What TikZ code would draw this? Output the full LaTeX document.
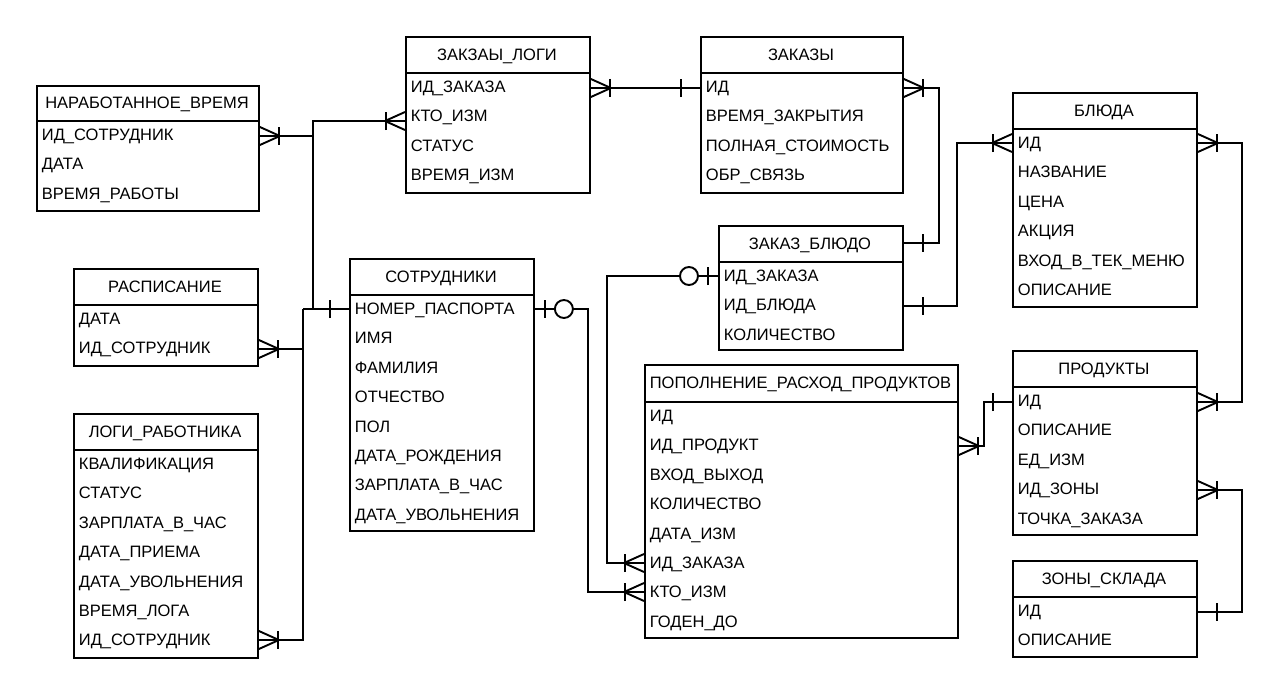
\documentclass[tikz,border=0pt]{standalone}
\usepackage{fontspec}
\setmainfont{Liberation Sans}
\begin{document}
\begin{tikzpicture}[x=1pt,y=-1pt,line width=1.9pt,
  tbl/.style={draw,fill=white,inner sep=0pt},
  ttl/.style={font=\fontsize{16.5}{18}\selectfont,inner sep=0pt,text height=11.8pt,text depth=0pt},
  fld/.style={font=\fontsize{16.5}{18}\selectfont,inner sep=0pt,anchor=west,text height=11.8pt,text depth=0pt},
  link/.style={draw,line width=1.9pt},
  crowmany/.pic={\draw (0,-9) -- (20,0) -- (0,9); \draw (19,-9) -- (19,9);},
  onebar/.pic={\draw (19,-9) -- (19,9);},
  zeroone/.pic={\draw (10,-9) -- (10,9); \draw[fill=white] (29,0) circle[radius=9pt];}
]
\useasboundingbox[fill=white] (0,0) rectangle (1280,693);

% table: name, left, top, right, header bottom, bottom, title, fields
\newcommand\ertable[8]{%
  \node[tbl,anchor=north west,minimum width={(#4-#2)*1pt},minimum height={(#6-#3)*1pt}] (#1) at (#2,#3) {};
  \draw (#1.west |- 0,#5) -- (#1.east |- 0,#5);
  \node[ttl] (#1-t) at ({(#2+#4)/2},{(#3+#5)/2}) {#7};
  \foreach \fldtext [count=\fldi] in {#8}{
    \node[fld] (#1-\fldi) at ({#2+5},{#5+13.5+29.4*(\fldi-1)}) {\fldtext};
  }%
}

\ertable{NV}{36}{85}{258}{121}{210}{НАРАБОТАННОЕ\_ВРЕМЯ}{ИД\_СОТРУДНИК,ДАТА,ВРЕМЯ\_РАБОТЫ}
\ertable{ZL}{405}{36}{589}{73}{192}{ЗАКЗАЫ\_ЛОГИ}{ИД\_ЗАКАЗА,КТО\_ИЗМ,СТАТУС,ВРЕМЯ\_ИЗМ}
\ertable{Z}{700}{36}{902}{73}{192}{ЗАКАЗЫ}{ИД,ВРЕМЯ\_ЗАКРЫТИЯ,ПОЛНАЯ\_СТОИМОСТЬ,ОБР\_СВЯЗЬ}
\ertable{B}{1012}{92}{1196}{129}{306}{БЛЮДА}{ИД,НАЗВАНИЕ,ЦЕНА,АКЦИЯ,ВХОД\_В\_ТЕК\_МЕНЮ,ОПИСАНИЕ}
\ertable{ZB}{718}{225}{902}{262}{349}{ЗАКАЗ\_БЛЮДО}{ИД\_ЗАКАЗА,ИД\_БЛЮДА,КОЛИЧЕСТВО}
\ertable{S}{349}{258}{533}{295}{530}{СОТРУДНИКИ}{НОМЕР\_ПАСПОРТА,ИМЯ,ФАМИЛИЯ,ОТЧЕСТВО,ПОЛ,ДАТА\_РОЖДЕНИЯ,ЗАРПЛАТА\_В\_ЧАС,ДАТА\_УВОЛЬНЕНИЯ}
\ertable{R}{73}{268}{257}{305}{365}{РАСПИСАНИЕ}{ДАТА,ИД\_СОТРУДНИК}
\ertable{LR}{73}{413}{257}{450}{657}{ЛОГИ\_РАБОТНИКА}{КВАЛИФИКАЦИЯ,СТАТУС,ЗАРПЛАТА\_В\_ЧАС,ДАТА\_ПРИЕМА,ДАТА\_УВОЛЬНЕНИЯ,ВРЕМЯ\_ЛОГА,ИД\_СОТРУДНИК}
\ertable{P}{644}{364}{957}{402}{637}{ПОПОЛНЕНИЕ\_РАСХОД\_ПРОДУКТОВ}{ИД,ИД\_ПРОДУКТ,ВХОД\_ВЫХОД,КОЛИЧЕСТВО,ДАТА\_ИЗМ,ИД\_ЗАКАЗА,КТО\_ИЗМ,ГОДЕН\_ДО}
\ertable{PR}{1012}{350}{1196}{387}{534}{ПРОДУКТЫ}{ИД,ОПИСАНИЕ,ЕД\_ИЗМ,ИД\_ЗОНЫ,ТОЧКА\_ЗАКАЗА}
\ertable{ZS}{1012}{560}{1196}{597}{656}{ЗОНЫ\_СКЛАДА}{ИД,ОПИСАНИЕ}

% staff key shared by four tables
\coordinate (jA) at (313,309);
\coordinate (jB) at (303,309);
\draw[link] (ZL.west |- 0,121) -| (jA);
\draw[link] (NV.east |- 0,136) -- (jA |- 0,136);
\draw[link] (S.west |- 0,309) -- (jB);
\draw[link] (R.east |- 0,349) -| (jB);
\draw[link] (LR.east |- 0,640) -| (jB);

% remaining relations
\draw[link] (S.east |- 0,309) -| (588,450) |- (P.west |- 0,592);
\draw[link] (ZB.west |- 0,276) -| (607,450) |- (P.west |- 0,563);
\draw[link] (ZL.east |- 0,88) -- (Z.west |- 0,88);
\draw[link] (Z.east |- 0,88) -| (939,160) |- (ZB.east |- 0,243);
\draw[link] (ZB.east |- 0,306) -| (957,220) |- (B.west |- 0,143);
\draw[link] (B.east |- 0,143) -| (1242,300) |- (PR.east |- 0,402);
\draw[link] (P.east |- 0,446) -| (984,420) |- (PR.west |- 0,402);
\draw[link] (PR.east |- 0,490) -| (1242,550) |- (ZS.east |- 0,612);

% cardinality marks
\pic at (NV.east |- 0,136) {crowmany};
\pic[rotate=180] at (ZL.west |- 0,121) {crowmany};
\pic at (R.east |- 0,349) {crowmany};
\pic at (LR.east |- 0,640) {crowmany};
\pic[rotate=180] at (S.west |- 0,309) {onebar};
\pic at (S.east |- 0,309) {zeroone};
\pic[rotate=180] at (P.west |- 0,592) {crowmany};
\pic[rotate=180] at (P.west |- 0,563) {crowmany};
\pic[rotate=180] at (ZB.west |- 0,276) {zeroone};
\pic at (ZL.east |- 0,88) {crowmany};
\pic[rotate=180] at (Z.west |- 0,88) {onebar};
\pic at (Z.east |- 0,88) {crowmany};
\pic at (ZB.east |- 0,243) {onebar};
\pic at (ZB.east |- 0,306) {onebar};
\pic[rotate=180] at (B.west |- 0,143) {crowmany};
\pic at (B.east |- 0,143) {crowmany};
\pic at (PR.east |- 0,402) {crowmany};
\pic at (P.east |- 0,446) {crowmany};
\pic[rotate=180] at (PR.west |- 0,402) {onebar};
\pic at (PR.east |- 0,490) {crowmany};
\pic at (ZS.east |- 0,612) {onebar};
\end{tikzpicture}
\end{document}
